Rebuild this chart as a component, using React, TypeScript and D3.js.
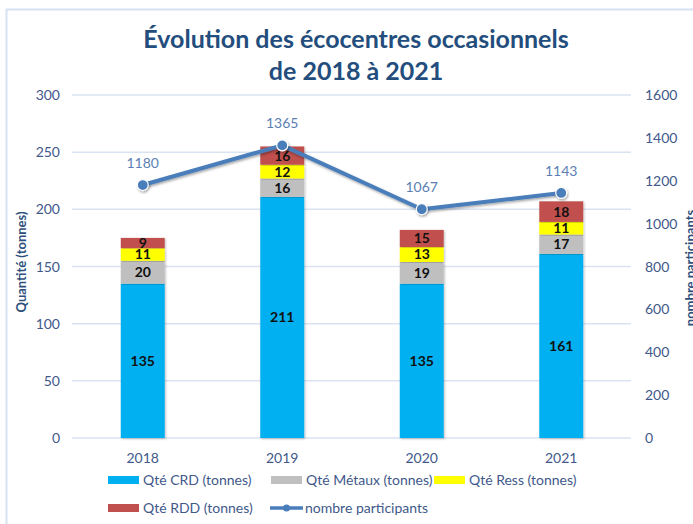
import React from "react";
import * as d3 from "d3";

const years = ["2018", "2019", "2020", "2021"];
const crd = [135, 211, 135, 161];
const metaux = [20, 16, 19, 17];
const ress = [11, 12, 13, 11];
const rdd = [9, 16, 15, 18];
const participants = [1180, 1365, 1067, 1143];
const leftTicks = [0, 50, 100, 150, 200, 250, 300];
const rightTicks = [0, 200, 400, 600, 800, 1000, 1200, 1400, 1600];
const seriesNames = ["Qté CRD (tonnes)", "Qté Métaux (tonnes)", "Qté Ress (tonnes)", "Qté RDD (tonnes)"];
const seriesColors = ["#00B0F0", "#BFBFBF", "#FFFF00", "#C0504D"];
const lineName = "nombre participants";

const W = 693, H = 524;
const FONT = "Lato, 'Open Sans', sans-serif";
const TICK_COLOR = "#41598a";
const LINE_COLOR = "#4a7ebb";

export default function App() {
  const x = d3.scaleBand().domain(years).range([73, 631]).paddingInner(0.685).paddingOuter(0.3425);
  const y = d3.scaleLinear().domain([0, 300]).range([438, 95]);
  const y2 = d3.scaleLinear().domain([0, 1600]).range([438, 95]);

  const rows = years.map((yr, i) => ({ year: yr, v0: crd[i], v1: metaux[i], v2: ress[i], v3: rdd[i] }));
  const stack = d3.stack<any>().keys(["v0", "v1", "v2", "v3"])(rows);

  const line = d3.line<number>().x((_, i) => (x(years[i]) as number) + x.bandwidth() / 2).y((d) => y2(d));

  return (
    <div style={{ position: "absolute", left: 0, top: 0 }}>
      <svg width={W} height={H} style={{ display: "block", fontFamily: FONT }}>
        <defs>
          <filter id="sh" x="-50%" y="-50%" width="200%" height="200%">
            <feDropShadow dx="1" dy="1.5" stdDeviation="1.2" floodColor="#000" floodOpacity="0.35" />
          </filter>
          <filter id="bsh" x="-20%" y="-5%" width="140%" height="110%">
            <feDropShadow dx="1" dy="1" stdDeviation="0.8" floodColor="#000" floodOpacity="0.25" />
          </filter>
        </defs>
        <rect x={0} y={0} width={W} height={H} fill="#fff" />
        <rect x={6.5} y={9.5} width={W + 10} height={H + 10} fill="#fff" stroke="#d6e2f1" strokeWidth={2} />

        <text x={356} y={48} textAnchor="middle" fontSize={25} fontWeight={700} fill="#234d7c">
          Évolution des écocentres occasionnels
        </text>
        <text x={356} y={80} textAnchor="middle" fontSize={25} fontWeight={700} fill="#234d7c">
          de 2018 à 2021
        </text>

        {leftTicks.map((t) => (
          <g key={"g" + t}>
            <line x1={72} x2={631} y1={y(t)} y2={y(t)} stroke="#d9e3f2" strokeWidth={1.5} />
            <text x={60} y={y(t) + 5} textAnchor="end" fontSize={14} fill={TICK_COLOR}>{t}</text>
          </g>
        ))}
        {rightTicks.map((t) => (
          <text key={"r" + t} x={645} y={y2(t) + 5} textAnchor="start" fontSize={14} fill={TICK_COLOR}>{t}</text>
        ))}

        <text transform={`translate(26,262) rotate(-90)`} textAnchor="middle" fontSize={13} fontWeight={700} fill="#2c4f7c">
          Quantité (tonnes)
        </text>
        <text transform={`translate(695,268) rotate(-90)`} textAnchor="middle" fontSize={13} fontWeight={700} fill="#2c4f7c">
          {lineName}
        </text>

        {stack.map((layer, li) => (
          <g key={"l" + li}>
            {layer.map((d, i) => (
              <rect key={i} x={x(years[i])} y={y(d[1])} width={x.bandwidth()} height={y(d[0]) - y(d[1])} fill={seriesColors[li]} filter="url(#bsh)" />
            ))}
          </g>
        ))}
        {stack.map((layer, li) => (
          <g key={"t" + li}>
            {layer.map((d, i) => (
              <text key={i} x={(x(years[i]) as number) + x.bandwidth() / 2} y={(y(d[0]) + y(d[1])) / 2 + 5} textAnchor="middle" fontSize={14} fontWeight={700} fill="#111">
                {d[1] - d[0]}
              </text>
            ))}
          </g>
        ))}

        {years.map((yr) => (
          <text key={"c" + yr} x={(x(yr) as number) + x.bandwidth() / 2} y={463} textAnchor="middle" fontSize={14} fill={TICK_COLOR}>{yr}</text>
        ))}

        <path d={line(participants) as string} fill="none" stroke={LINE_COLOR} strokeWidth={4} strokeLinejoin="round" filter="url(#sh)" />
        {participants.map((p, i) => {
          const cx = (x(years[i]) as number) + x.bandwidth() / 2;
          return (
            <g key={"p" + i}>
              <circle cx={cx} cy={y2(p)} r={5.5} fill={LINE_COLOR} stroke="#fff" strokeWidth={1.2} filter="url(#sh)" />
              <rect x={cx - 20} y={y2(p) - 32} width={40} height={20} fill="#fff" />
              <text x={cx} y={y2(p) - 17} textAnchor="middle" fontSize={14} fill="#5b7fb3">{p}</text>
            </g>
          );
        })}

        {[
          { k: 0, sx: 108, sy: 480 },
          { k: 1, sx: 271, sy: 480 },
          { k: 2, sx: 434, sy: 480 },
          { k: 3, sx: 108, sy: 508 },
        ].map((it) => (
          <g key={"lg" + it.k}>
            <rect x={it.sx} y={it.sy - 4} width={31} height={8} fill={seriesColors[it.k]} />
            <text x={it.sx + 35} y={it.sy + 5} fontSize={14} fill={TICK_COLOR}>{seriesNames[it.k]}</text>
          </g>
        ))}
        <line x1={270} x2={303} y1={508} y2={508} stroke={LINE_COLOR} strokeWidth={3.5} />
        <circle cx={286.5} cy={508} r={3.5} fill={LINE_COLOR} />
        <text x={305} y={513} fontSize={14} fill={TICK_COLOR}>{lineName}</text>
      </svg>
    </div>
  );
}
